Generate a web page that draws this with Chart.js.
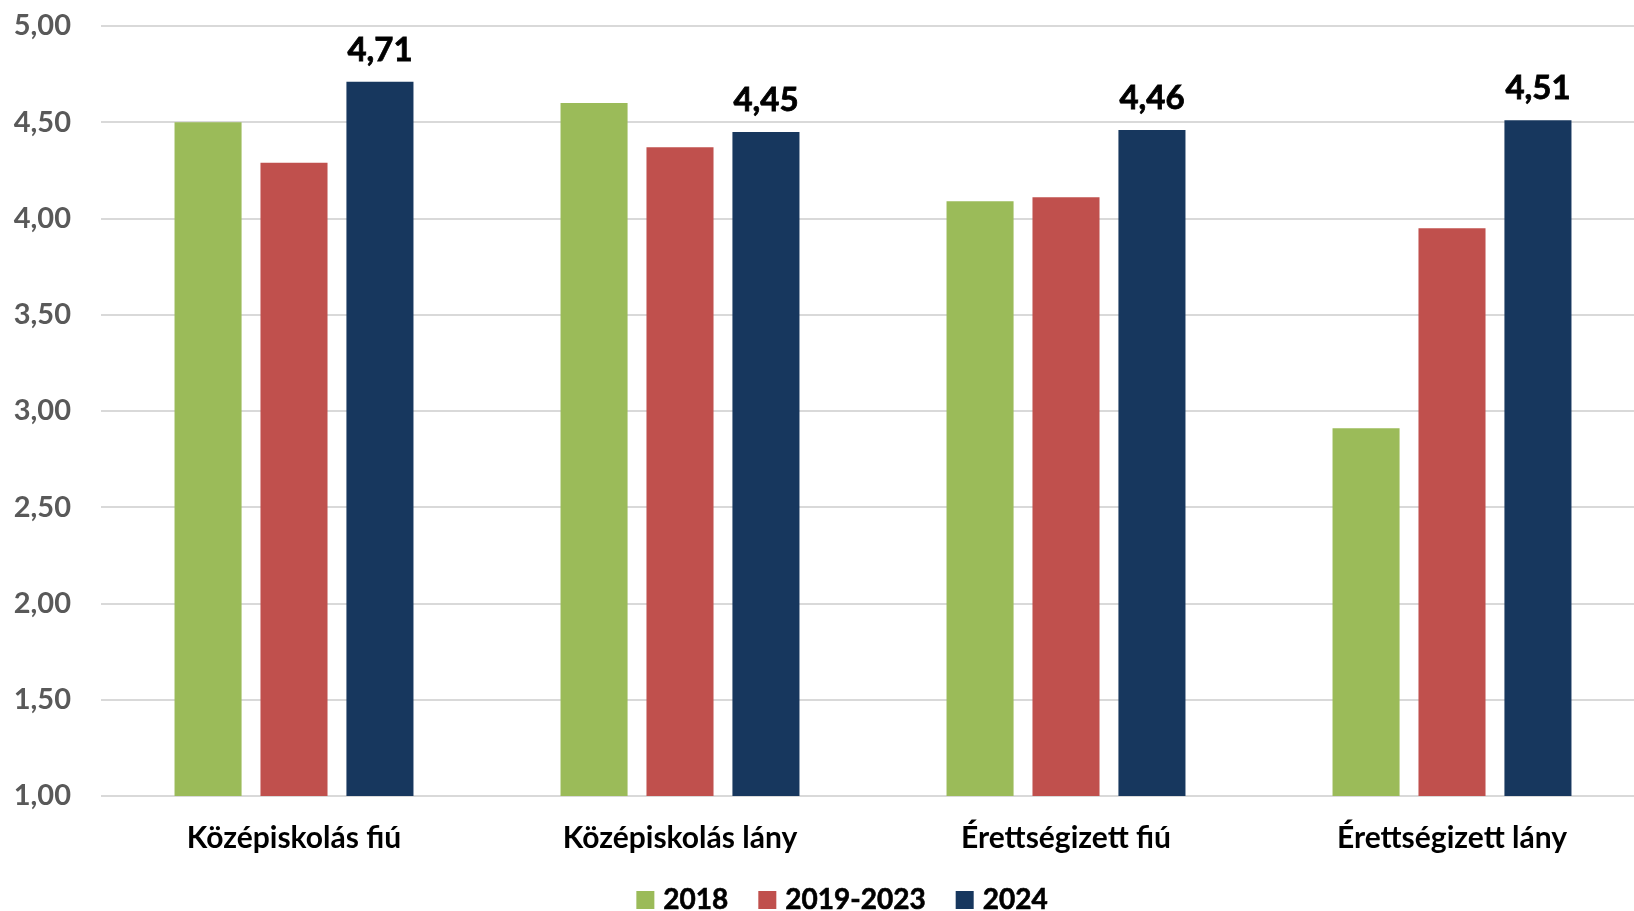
<!DOCTYPE html>
<html><head><meta charset="utf-8">
<script src="https://cdn.jsdelivr.net/npm/chart.js@4.4.1/dist/chart.umd.min.js"></script>
<style>html,body{margin:0;padding:0;background:#fff;overflow:hidden}#wrap{width:1634px;height:911px;overflow:hidden}canvas{display:block}</style>
</head><body><div id="wrap"><canvas id="c" width="1645" height="911" style="width:1645px;height:911px"></canvas></div>
<script>
const categories = ["Középiskolás fiú", "Középiskolás lány", "Érettségizett fiú", "Érettségizett lány"];
const seriesNames = ["2018", "2019-2023", "2024"];
const values2018 = [4.50, 4.60, 4.09, 2.91];
const values2019_2023 = [4.29, 4.37, 4.11, 3.95];
const values2024 = [4.71, 4.45, 4.46, 4.51];
const yMin = 1, yMax = 5, yStep = 0.5;
const colors = ["#9BBB59", "#C0504D", "#17375E"];

const FONT = "Lato, 'Open Sans', sans-serif";
const fmt = v => Number(v).toFixed(2).replace('.', ',');

const dataLabelPlugin = {
  id: 'dataLabels',
  afterDatasetsDraw(chart) {
    const ctx = chart.ctx;
    const meta = chart.getDatasetMeta(2);
    ctx.save();
    ctx.font = "bold 33px " + FONT;
    ctx.fillStyle = "#000";
    ctx.strokeStyle = "#000";
    ctx.lineWidth = 0.8;
    ctx.textAlign = "center";
    ctx.textBaseline = "alphabetic";
    meta.data.forEach((bar, i) => {
      ctx.fillText(fmt(values2024[i]), bar.x, bar.y - 21);
      ctx.strokeText(fmt(values2024[i]), bar.x, bar.y - 21);
    });
    ctx.restore();
  }
};

const legendPlugin = {
  id: 'customLegend',
  afterDraw(chart) {
    const ctx = chart.ctx;
    ctx.save();
    ctx.font = "bold 28px " + FONT;
    const box = 18, gapText = 9, gapItem = 30;
    const widths = seriesNames.map(n => ctx.measureText(n).width);
    let total = widths.reduce((a, w) => a + box + gapText + w, 0) + gapItem * (seriesNames.length - 1);
    let x = 842 - total / 2;
    const baseY = 909;
    seriesNames.forEach((n, i) => {
      ctx.fillStyle = colors[i];
      ctx.fillRect(x, 891, box, box);
      ctx.fillStyle = "#000";
      ctx.strokeStyle = "#000";
      ctx.lineWidth = 0.6;
      ctx.textAlign = "left";
      ctx.textBaseline = "alphabetic";
      ctx.fillText(n, x + box + gapText, baseY);
      ctx.strokeText(n, x + box + gapText, baseY);
      x += box + gapText + widths[i] + gapItem;
    });
    ctx.restore();
  }
};

new Chart(document.getElementById('c'), {
  type: 'bar',
  data: {
    labels: categories,
    datasets: [
      { label: seriesNames[0], data: values2018, backgroundColor: colors[0] },
      { label: seriesNames[1], data: values2019_2023, backgroundColor: colors[1] },
      { label: seriesNames[2], data: values2024, backgroundColor: colors[2] }
    ]
  },
  options: {
    responsive: false,
    animation: false,
    devicePixelRatio: 1,
    layout: { padding: { top: 26, right: 0, bottom: 0, left: 0 } },
    datasets: { bar: { categoryPercentage: 0.668, barPercentage: 0.78 } },
    plugins: { legend: { display: false }, tooltip: { enabled: false } },
    scales: {
      x: {
        grid: { display: false },
        border: { display: false },
        ticks: { color: "#000", font: { family: FONT, size: 30, weight: 'bold' }, padding: 16, maxRotation: 0 },
        afterFit(axis) { axis.height = 115; axis.paddingLeft = 0; axis.paddingRight = 0; }
      },
      y: {
        min: yMin, max: yMax,
        grid: { color: "#D9D9D9", lineWidth: 2, drawTicks: false },
        border: { display: false },
        ticks: {
          stepSize: yStep,
          color: "#595959",
          font: { family: FONT, size: 29, weight: 'bold' },
          padding: 30,
          callback: v => fmt(v)
        },
        afterFit(axis) { axis.width = 101; axis.paddingTop = 0; axis.paddingBottom = 0; }
      }
    }
  },
  plugins: [dataLabelPlugin, legendPlugin]
});
</script>
</body></html>
